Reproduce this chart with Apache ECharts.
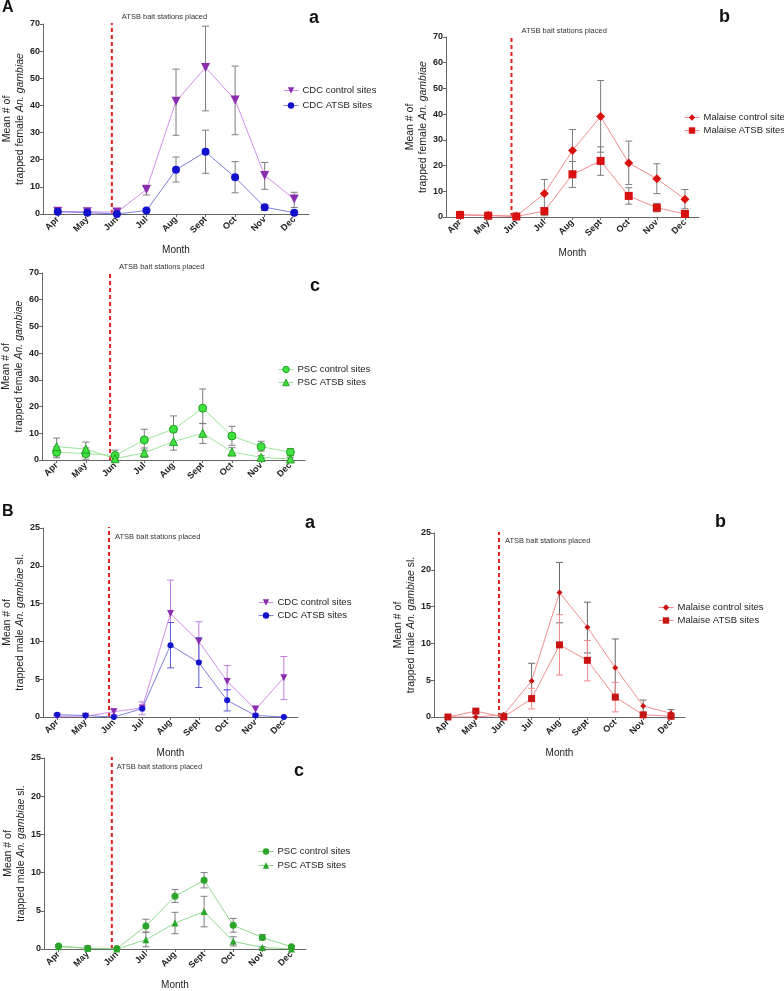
<!DOCTYPE html>
<html>
<head>
<meta charset="utf-8">
<script src="https://cdn.jsdelivr.net/npm/echarts@6/dist/echarts.min.js"></script>
<style>html,body{margin:0;padding:0;background:#fff}#c{width:784px;height:991px}</style>
</head>
<body>
<div id="c"></div>
<script>
// ---------------- data ----------------
const months = ['Apr', 'May', 'Jun', 'Jul', 'Aug', 'Sept', 'Oct', 'Nov', 'Dec'];
const femaleMax = 70, femaleStep = 10;
const maleMax = 25, maleStep = 5;
const baitPlacedAt = 1.83; // category position (between May and Jun)

// A-a CDC, female
const cdcCtrlF = [1.0, 0.8, 0.7, 9.0, 41.5, 54.0, 42.0, 14.2, 5.5];
const cdcCtrlFErr = [[0.5,1.5],[0.4,1.2],[0.3,1.1],[7.0,10.6],[29.0,53.4],[38.0,69.2],[29.2,54.5],[9.1,19.0],[2.4,8.0]];
const cdcAtsbF = [0.8, 0.5, 0.0, 1.3, 16.3, 22.9, 13.5, 2.5, 0.5];
const cdcAtsbFErr = [[0.5,1.1],[0.3,0.7],[0,0.2],[0.9,1.8],[11.8,21.0],[15.0,30.9],[7.8,19.3],[1.3,3.5],[0.1,1.0]];
// A-b Malaise, female
const malCtrlF = [0.9, 0.7, 0.3, 9.1, 25.9, 39.1, 21.0, 14.9, 6.9];
const malCtrlFErr = [[0.5,1.5],[0.3,1.1],[0,0.6],[2.6,14.6],[17.8,34.0],[25.2,53.1],[12.6,29.5],[9.1,20.7],[3.2,10.7]];
const malAtsbF = [0.8, 0.5, 0.2, 2.3, 16.6, 21.8, 8.2, 3.6, 1.2];
const malAtsbFErr = [[0.4,1.2],[0.2,0.8],[0,0.4],[0.5,3.6],[11.5,21.6],[16.2,27.3],[5.0,11.4],[2.0,5.3],[0.3,2.0]];
// A-c PSC, female
const pscCtrlF = [2.9, 2.4, 1.7, 7.5, 11.5, 19.4, 9.0, 5.0, 2.9];
const pscCtrlFErr = [[0.8,5.0],[0.3,4.5],[0,3.7],[3.7,11.5],[6.5,16.5],[13.7,26.6],[5.5,12.6],[3.3,7.0],[1.6,4.3]];
const pscAtsbF = [5.0, 4.1, 0.5, 2.7, 6.9, 10.0, 3.0, 1.0, 0.4];
const pscAtsbFErr = [[1.5,8.2],[1.2,6.7],[0,1.5],[1.0,4.5],[3.7,10.5],[6.2,13.6],[1.6,4.6],[0.5,1.6],[0,1.0]];
// B-a CDC, male
const cdcCtrlM = [0.1, 0.1, 0.7, 1.2, 13.7, 10.0, 4.7, 1.0, 5.2];
const cdcCtrlMErr = [[0,0.2],[0,0.2],[0.3,1.1],[0.3,2.0],[9.3,18.1],[7.4,12.6],[3.6,6.8],[0.5,1.5],[2.3,8.0]];
const cdcAtsbM = [0.3, 0.2, 0.0, 1.1, 9.5, 7.2, 2.2, 0.2, 0.0];
const cdcAtsbMErr = [[0.2,0.4],[0.1,0.3],[0,0],[1.0,1.3],[6.5,12.5],[3.9,10.5],[0.8,3.6],[0.1,0.3],[0,0]];
// B-b Malaise, male
const malCtrlM = [0.0, 0.0, 0.3, 4.9, 16.9, 12.2, 6.7, 1.5, 0.5];
const malCtrlMErr = [[0,0],[0,0],[0.1,0.5],[2.5,7.3],[12.8,21.0],[8.7,15.6],[2.8,10.6],[0.6,2.3],[0.1,1.0]];
const malAtsbM = [0.0, 0.8, 0.0, 2.5, 9.8, 7.7, 2.7, 0.3, 0.1];
const malAtsbMErr = [[0,0],[0.6,1.0],[0,0],[1.1,3.9],[5.7,13.9],[4.9,10.4],[0.7,4.7],[0,0.5],[0,0.3]];
// B-c PSC, male
const pscCtrlM = [0.4, 0.1, 0.05, 3.0, 6.9, 9.0, 3.1, 1.5, 0.3];
const pscCtrlMErr = [[0.2,0.5],[0,0.4],[0,0.1],[2.2,3.9],[6.1,7.8],[8.0,10.0],[2.2,4.0],[1.2,1.9],[0.1,0.4]];
const pscAtsbM = [0.3, 0.1, 0.0, 1.2, 3.4, 4.9, 1.0, 0.2, 0.0];
const pscAtsbMErr = [[0.2,0.4],[0,0.2],[0,0],[0.3,2.2],[2.0,4.8],[2.9,6.9],[0.4,1.6],[0.1,0.3],[0,0]];

// ---------------- style / layout ----------------
const F = '"Liberation Sans", Arial, sans-serif';
const TRI_DOWN = 'path://M0,0L10,0L5,9Z';
const femaleName = '{n|Mean # of}\n{n|trapped female }{i|An. gambiae}';
const maleName = '{n|Mean # of}\n{n|trapped male }{i|An. gambiae}{n| sl.}';

const panels = [
  { grid:{left:43, top:24, width:266, height:190}, ymax:femaleMax, step:femaleStep, yname:femaleName, month:true,
    note:{dx:10, dy:-7}, legend:{left:278, top:80, gap:4},
    s:[
      {name:'CDC control sites', data:cdcCtrlF, err:cdcCtrlFErr, symbol:TRI_DOWN, size:9, color:'#8a2cb0', line:'#cf8eea', errColor:'#7d7d7d'},
      {name:'CDC ATSB sites', data:cdcAtsbF, err:cdcAtsbFErr, symbol:'circle', size:8, color:'#1212cc', line:'#7f7fe2', errColor:'#7d7d7d'}
    ]},
  { grid:{left:446, top:37, width:253, height:180}, ymax:femaleMax, step:femaleStep, yname:femaleName, month:true,
    note:{dx:10, dy:-6}, legend:{left:679, top:107, gap:2},
    s:[
      {name:'Malaise control sites', data:malCtrlF, err:malCtrlFErr, symbol:'diamond', size:9, color:'#d91010', line:'#f28c8c', errColor:'#7d7d7d'},
      {name:'Malaise ATSB sites', data:malAtsbF, err:malAtsbFErr, symbol:'rect', size:8, color:'#d91010', line:'#f28c8c', errColor:'#7d7d7d'}
    ]},
  { grid:{left:42, top:273, width:263, height:187}, ymax:femaleMax, step:femaleStep, yname:femaleName, month:false,
    note:{dx:9, dy:-6}, legend:{left:273, top:359, gap:2},
    s:[
      {name:'PSC control sites', data:pscCtrlF, err:pscCtrlFErr, symbol:'circle', size:8, color:'#3fe03f', border:'#22a022', line:'#9be69b', errColor:'#7d7d7d'},
      {name:'PSC ATSB sites', data:pscAtsbF, err:pscAtsbFErr, symbol:'triangle', size:8, color:'#3fe03f', border:'#22a022', line:'#9be69b', errColor:'#7d7d7d'}
    ]},
  { grid:{left:43, top:528, width:255, height:189}, ymax:maleMax, step:maleStep, yname:maleName, month:true,
    note:{dx:6, dy:9}, legend:{left:253, top:592, gap:2},
    s:[
      {name:'CDC control sites', data:cdcCtrlM, err:cdcCtrlMErr, symbol:TRI_DOWN, size:7, color:'#8a2cb0', line:'#cf8eea', errColor:'#c07ee0'},
      {name:'CDC ATSB sites', data:cdcAtsbM, err:cdcAtsbMErr, symbol:'circle', size:6, color:'#1212cc', line:'#7f7fe2', errColor:'#5a5ad6'}
    ]},
  { grid:{left:434, top:533, width:251, height:184}, ymax:maleMax, step:maleStep, yname:maleName, month:true,
    note:{dx:6, dy:8}, legend:{left:653, top:597, gap:2},
    s:[
      {name:'Malaise control sites', data:malCtrlM, err:malCtrlMErr, symbol:'diamond', size:6, color:'#c81414', line:'#f28c8c', errColor:'#6a6a6a'},
      {name:'Malaise ATSB sites', data:malAtsbM, err:malAtsbMErr, symbol:'rect', size:7, color:'#c81414', line:'#f28c8c', errColor:'#f08a8a'}
    ]},
  { grid:{left:44, top:758, width:262, height:193}, ymax:maleMax, step:maleStep, yname:maleName, month:true,
    note:{dx:5, dy:9}, legend:{left:253, top:841, gap:3},
    s:[
      {name:'PSC control sites', data:pscCtrlM, err:pscCtrlMErr, symbol:'circle', size:7, color:'#2aa52a', line:'#8fd88f', errColor:'#7d7d7d'},
      {name:'PSC ATSB sites', data:pscAtsbM, err:pscAtsbMErr, symbol:'triangle', size:7, color:'#2aa52a', line:'#8fd88f', errColor:'#7d7d7d'}
    ]}
];

const panelLabels = [
  {text:'A', left:2, top:0, size:16},
  {text:'a', left:309, top:9, size:18},
  {text:'b', left:719, top:8, size:18},
  {text:'c', left:310, top:277, size:18},
  {text:'B', left:2, top:504, size:16},
  {text:'a', left:305, top:514, size:18},
  {text:'b', left:715, top:513, size:18},
  {text:'c', left:294, top:762, size:18}
];

// ---------------- build ----------------
const grids = [], xAxes = [], yAxes = [], series = [], legends = [], titles = [];

function errRender(color) {
  return function (params, api) {
    const x = api.value(0);
    const lo = api.coord([x, api.value(1)]);
    const hi = api.coord([x, api.value(2)]);
    const w = 3.5;
    const st = {stroke: color, lineWidth: 1};
    return {type:'group', children:[
      {type:'line', shape:{x1:lo[0], y1:lo[1], x2:hi[0], y2:hi[1]}, style:st},
      {type:'line', shape:{x1:hi[0]-w, y1:hi[1], x2:hi[0]+w, y2:hi[1]}, style:st},
      {type:'line', shape:{x1:lo[0]-w, y1:lo[1], x2:lo[0]+w, y2:lo[1]}, style:st}
    ]};
  };
}

panels.forEach((p, i) => {
  grids.push(Object.assign({containLabel:false}, p.grid));
  xAxes.push({
    type:'category', gridIndex:i, data:months, boundaryGap:true,
    name: p.month ? 'Month' : '', nameLocation:'middle', nameGap:31,
    nameTextStyle:{fontSize:10, color:'#222', fontFamily:F},
    axisLine:{lineStyle:{color:'#666', width:1}},
    axisTick:{show:true, alignWithLabel:true, length:3, lineStyle:{color:'#666'}},
    axisLabel:{rotate:45, interval:0, fontSize:9, fontWeight:'bold', color:'#222', margin:4, fontFamily:F},
    splitLine:{show:false}
  });
  yAxes.push({
    type:'value', gridIndex:i, min:0, max:p.ymax, interval:p.step,
    name:p.yname, nameLocation:'middle', nameGap:16,
    nameTextStyle:{color:'#222', fontFamily:F, rich:{
      n:{fontSize:10.5, lineHeight:13, color:'#222', fontFamily:F},
      i:{fontSize:10.5, lineHeight:13, color:'#222', fontStyle:'italic', fontFamily:F}
    }},
    axisLine:{show:true, lineStyle:{color:'#666', width:1}},
    axisTick:{show:true, length:3, lineStyle:{color:'#666'}},
    axisLabel:{fontSize:9, fontWeight:'bold', color:'#222', margin:3, fontFamily:F},
    splitLine:{show:false}
  });

  // bait-station dashed line + note
  series.push({
    type:'custom', xAxisIndex:i, yAxisIndex:i, silent:true, z:1,
    data:[[2, 0]],
    renderItem: function (params, api) {
      const a = api.coord([1, 0]);
      const b = api.coord([2, 0]);
      const top = api.coord([2, p.ymax]);
      const frac = baitPlacedAt - 1;
      const x = a[0] + frac * (b[0] - a[0]);
      return {type:'group', children:[
        {type:'line', shape:{x1:x, y1:a[1], x2:x, y2:top[1] - 1}, style:{stroke:'#e3201b', lineWidth:2, lineDash:[4, 3]}},
        {type:'text', x: x + p.note.dx, y: top[1] + p.note.dy,
         style:{text:'ATSB bait stations placed', fontSize:7.5, fontFamily:F, fill:'#333', verticalAlign:'middle', align:'left'}}
      ]};
    }
  });

  const legendData = [];
  p.s.forEach((s) => {
    series.push({
      type:'custom', name: s.name + ' err', xAxisIndex:i, yAxisIndex:i, silent:true, z:2,
      data: s.err.map((e, k) => [k, e[0], e[1]]),
      encode:{x:0, y:[1, 2]},
      renderItem: errRender(s.errColor)
    });
    series.push({
      type:'line', name:s.name, xAxisIndex:i, yAxisIndex:i, z:3,
      data:s.data, symbol:s.symbol, symbolSize:s.size, showSymbol:true,
      itemStyle:{color:s.color, borderColor:s.border || s.color, borderWidth: s.border ? 1 : 0},
      lineStyle:{color:s.line, width:1},
      emphasis:{disabled:true}, animation:false
    });
    legendData.push({name:s.name,
      itemStyle:{color:s.color, borderColor:s.border || s.color, borderWidth: s.border ? 1 : 0},
      lineStyle:{color:s.line, width:1}});
  });
  legends.push({
    orient:'vertical', left:p.legend.left, top:p.legend.top, itemGap:p.legend.gap,
    itemWidth:15, itemHeight:8, data:legendData, selectedMode:false,
    textStyle:{fontSize:9.5, color:'#222', fontFamily:F, lineHeight:11, padding:[0,0,0,-1]}
  });
});

panelLabels.forEach(l => titles.push({text:l.text, left:l.left, top:l.top, padding:0,
  textStyle:{fontSize:l.size, fontWeight:'bold', color:'#111', fontFamily:F}}));

const chart = echarts.init(document.getElementById('c'), null, {renderer:'canvas'});
chart.setOption({
  animation:false,
  backgroundColor:'#fff',
  title:titles,
  grid:grids, xAxis:xAxes, yAxis:yAxes,
  legend:legends,
  series:series
});
</script>
</body>
</html>
